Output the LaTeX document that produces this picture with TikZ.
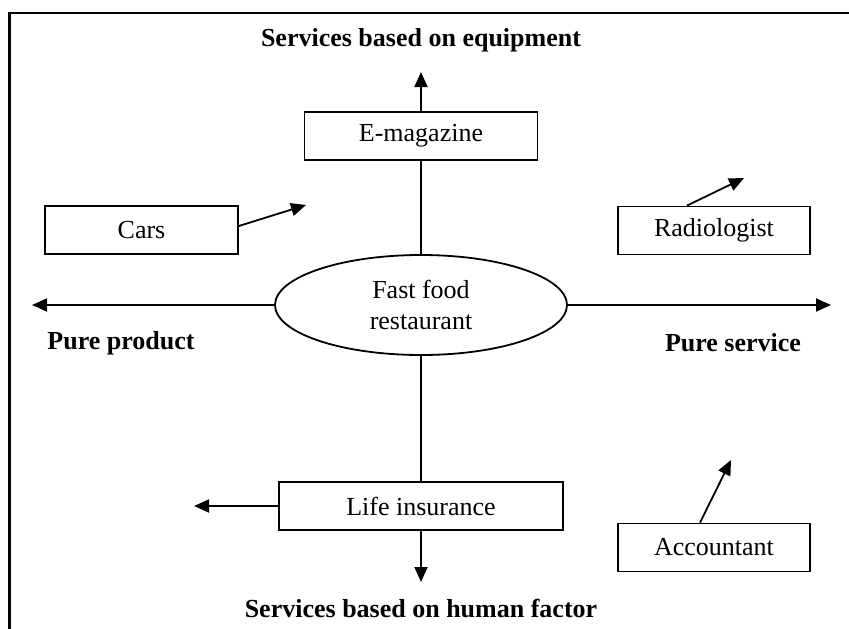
\documentclass[tikz,border=0pt]{standalone}
\usepackage{fontspec}
\setmainfont{Liberation Serif}
\usetikzlibrary{arrows.meta,shapes.geometric}
\begin{document}
\begin{tikzpicture}[x=1pt,y=-1pt,
  txt/.style={font=\fontsize{26}{31}\selectfont},
  lbl/.style={font=\fontsize{26}{31}\selectfont\bfseries,inner sep=0pt},
  box/.style={draw,line width=1.8pt,rectangle,minimum width=#1,minimum height=48pt,inner sep=0pt,txt},
  oval/.style={draw,line width=1.8pt,ellipse,minimum width=292pt,minimum height=100pt,inner sep=0pt,align=center,txt},
  ln/.style={line width=1.8pt},
  arr/.style={line width=1.8pt,-{Triangle[length=15pt,width=13pt]}}]
\useasboundingbox (0,0) rectangle (849,629);
\draw[line width=2.5pt] (9.5,629) -- (9.5,13) -- (849,13);
% nodes
\node[box=233] (emag) at (421,136) {E-magazine};
\node[box=193] (cars) at (141.5,230) {Cars};
\node[box=192] (radio) at (714,230.5) {Radiologist};
\node[oval] (ff) at (421,305) {Fast food\\restaurant};
\node[box=284] (life) at (421,506) {Life insurance};
\node[box=192] (acc) at (714,547.5) {Accountant};
% labels
\node[lbl] (ltop) at (421,40) {Services based on equipment};
\node[lbl] (lleft) at (121,343) {Pure product};
\node[lbl] (lright) at (733,343) {Pure service};
\node[lbl] (lbot) at (421,608) {Services based on human factor};
% free ends
\coordinate (ctop) at (421,72);
\coordinate (cbot) at (421,582);
\coordinate (cleft) at (32,305);
\coordinate (cright) at (831,305);
\coordinate (clife) at (194,506);
\coordinate (ccars) at (306,205);
\coordinate (cradio) at (744,178);
\coordinate (cacc) at (731,460);
% connectors
\draw[arr] (emag.north) -- (ctop);
\draw[ln] (emag.south) -- (ff.north);
\draw[ln] (ff.south) -- (life.north);
\draw[arr] (life.south) -- (cbot);
\draw[arr] (ff.west) -- (cleft);
\draw[arr] (ff.east) -- (cright);
\draw[arr] (life.west) -- (clife);
\draw[arr] ([yshift=4pt]cars.east) -- (ccars);
\draw[arr] ([xshift=-27pt]radio.north) -- (cradio);
\draw[arr] ([xshift=-14pt]acc.north) -- (cacc);
\end{tikzpicture}
\end{document}
